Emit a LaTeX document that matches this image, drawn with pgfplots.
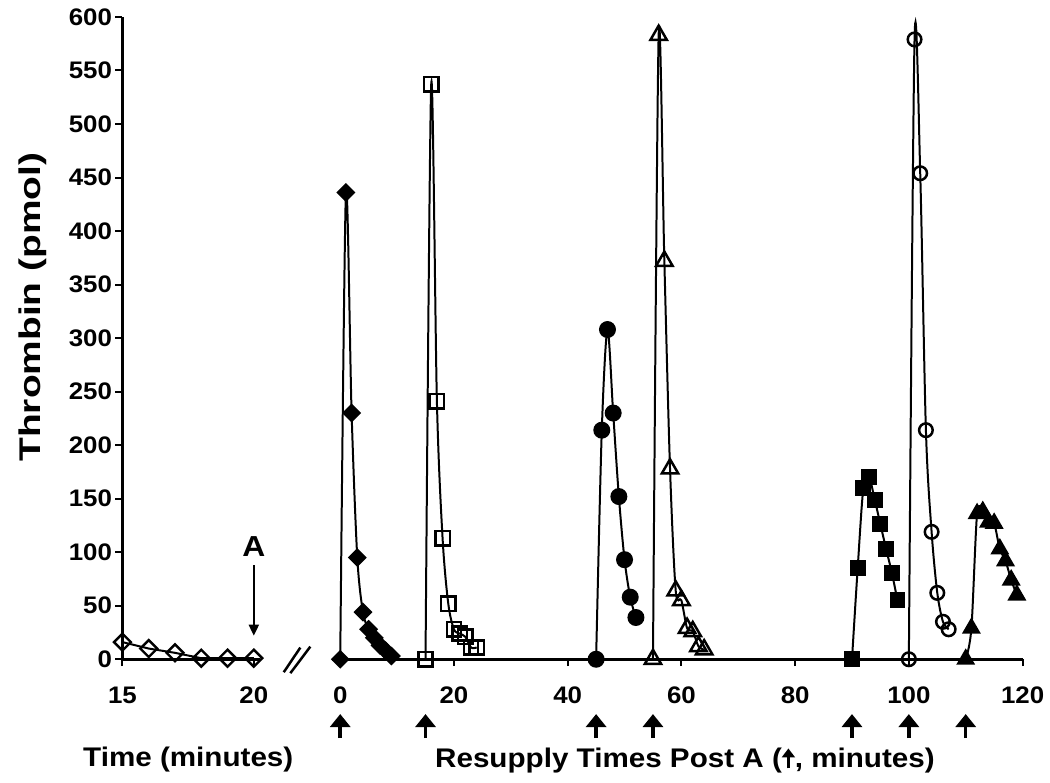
\documentclass[border=0pt]{standalone}
\usepackage{fontspec}
\usepackage{pgfplots}
\pgfplotsset{compat=1.18}
\usetikzlibrary{arrows.meta}
\setmainfont{Liberation Sans}
\newfontfamily\tickfont{Liberation Sans}[FakeStretch=1.08]
\newfontfamily\labfont{Liberation Sans}[FakeStretch=1.1]
\newfontfamily\ylabfont{Liberation Sans}[FakeStretch=1.3]
\newcommand{\tf}{\tickfont\bfseries\fontsize{24}{28}\selectfont}
\newcommand{\lf}{\labfont\bfseries\fontsize{27}{32}\selectfont}
\newsavebox\uparr
\begin{document}
\sbox\uparr{\tikz[baseline=0pt]\draw[line width=3pt,-{Triangle[width=13pt,length=9pt]}] (0,-1pt)--(0,19pt);}
\begin{tikzpicture}[x=1pt,y=1pt]
\path[use as bounding box] (0,0) rectangle (1050,785);
\pgfplotsset{
  common/.style={
    scale only axis, height=644pt, ymin=0, ymax=600, clip=false,
    axis x line*=bottom, axis line style={line width=2.5pt, black},
    tick align=outside, major tick length=7pt,
    tick style={line width=2pt, black},
    ticklabel style={font=\tf},
    xticklabel style={yshift=-17pt},
    /pgf/number format/assume math mode=true,
    every axis plot/.append style={black, line width=2pt},
  },
}
% left segment
\begin{axis}[common, at={(120pt,124pt)}, anchor=south west,
  width=138.3pt, xmin=15, xmax=20.25,
  axis y line*=left, xtick={15,20},
  ytick={0,50,...,600},
]
\addplot[mark=square, mark size=6pt, mark options={rotate=45, line width=2.4pt}] coordinates {
 (15,16) (16,10) (17,6) (18,1) (19,1) (20,1)};
\node[font=\labfont\bfseries\fontsize{29}{33}\selectfont] at (axis cs:20,105) {A};
\draw[line width=2pt, -{Triangle[width=10pt,length=11pt]}] (axis cs:20,88) -- (axis cs:20,22);
\end{axis}
% right segment
\begin{axis}[common, at={(329.8pt,124pt)}, anchor=south west,
  width=692.7pt, xmin=-1.5, xmax=120,
  axis y line=none, xtick={0,20,...,120},
]
\addplot[smooth, mark=square*, mark size=5.7pt, mark options={rotate=45}] coordinates {
 (0,0) (1,436) (2,230) (3,95) (4,44) (5,28) (6,20) (7,13) (8,8) (9,3)};
\addplot[smooth, mark=square, mark size=7.2pt, mark options={line width=2.5pt}] coordinates {
 (15,0) (16,537) (17,241) (18,113) (19,52) (20,28) (21,24) (22,21) (23,11) (24,11)};
\addplot[smooth, mark=*, mark size=7.5pt] coordinates {
 (45,0) (46,214) (47,308) (48,230) (49,152) (50,93) (51,58) (52,39)};
\addplot[smooth, mark=triangle, mark size=9.5pt, mark options={line width=2.5pt}] coordinates {
 (55,0) (56,583) (57,372) (58,178) (59,64) (60,55) (61,29) (62,26) (63,12) (64,9)};
\addplot[smooth, mark=square*, mark size=7pt] coordinates {
 (90,0) (91,85) (92,160) (93,170) (94,149) (95,126) (96,103) (97,81) (98,55)};
\addplot[smooth, mark=o, mark size=6.8pt, mark options={line width=2.5pt}] coordinates {
 (100,0) (101,579) (102,454) (103,214) (104,119) (105,62) (106,35) (107,28)};
\addplot[smooth, mark=triangle*, mark size=9pt] coordinates {
 (110,0) (111,29) (112,136) (113,138) (114,128) (115,127) (116,103) (117,92) (118,74) (119,60)};
% resupply arrows
\pgfplotsinvokeforeach{0,15,45,55,90,100,110}{
  \draw[line width=3.5pt, -{Triangle[width=20pt,length=13pt]}] (axis cs:#1,-73.6) -- (axis cs:#1,-51.2);
}
% axis break
\draw[line width=2.5pt] (axis cs:-9.93,-12.1) -- (axis cs:-7.02,10.9);
\draw[line width=2.5pt] (axis cs:-8.77,-13.0) -- (axis cs:-5.26,11.8);
\end{axis}
\node[font=\lf] at (186,23) {Time (minutes)};
\node[font=\lf] at (684,23) {Resupply Times Post A (\usebox\uparr, minutes)};
\node[font=\ylabfont\bfseries\fontsize{30}{34}\selectfont, rotate=90] at (30,477) {Thrombin (pmol)};
\end{tikzpicture}
\end{document}
